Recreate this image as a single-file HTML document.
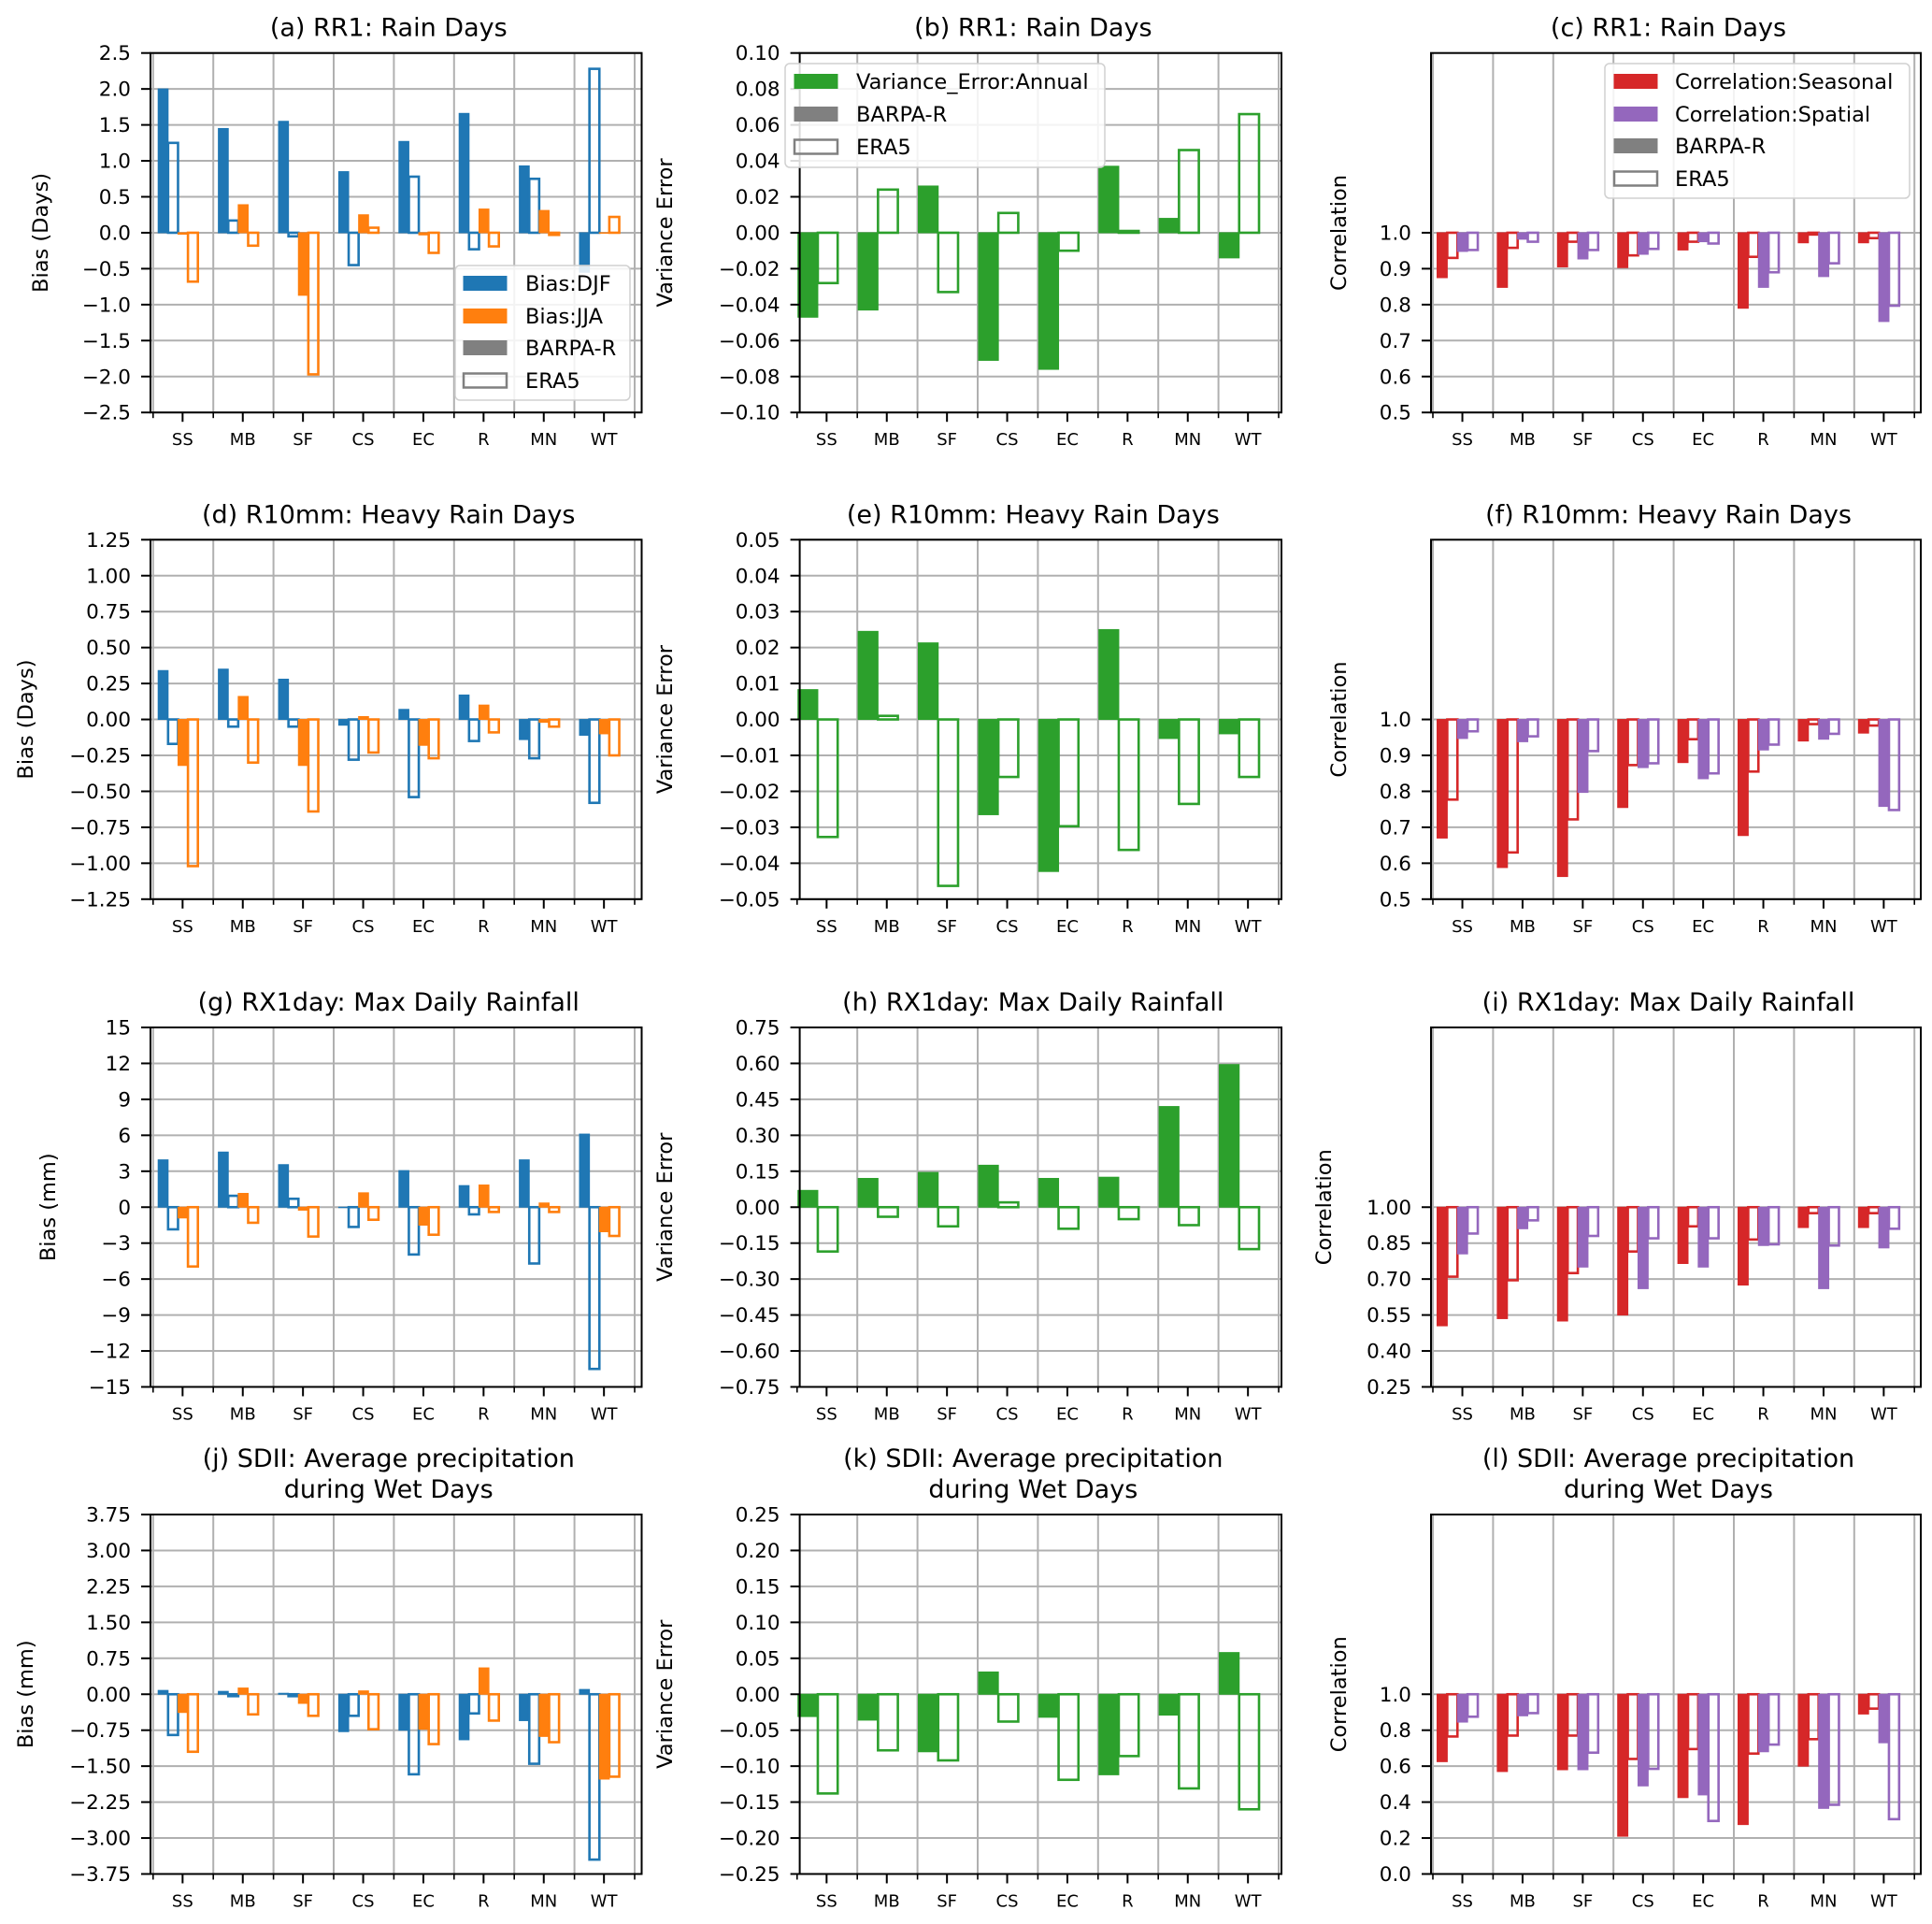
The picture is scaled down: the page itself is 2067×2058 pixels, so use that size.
<!DOCTYPE html>
<html><head><meta charset="utf-8"><style>
html,body{margin:0;padding:0;background:#fff;}
svg{display:block;font-family:"DejaVu Sans","Liberation Sans",sans-serif;}
</style></head><body>
<svg id="fig" width="2067" height="2058" viewBox="0 0 2067 2058" xmlns="http://www.w3.org/2000/svg"></svg>
<script>
const categories = ["SS","MB","SF","CS","EC","R","MN","WT"];
// (a) RR1 bias
const aDjfBarpa = [2.0,1.45,1.55,0.85,1.27,1.66,0.93,-0.55];
const aDjfEra5  = [1.25,0.17,-0.05,-0.45,0.78,-0.23,0.75,2.28];
const aJjaBarpa = [-0.02,0.39,-0.87,0.25,-0.03,0.33,0.31,0.0];
const aJjaEra5  = [-0.68,-0.18,-1.97,0.07,-0.28,-0.19,-0.03,0.22];
const aTicks = [-2.5,-2.0,-1.5,-1.0,-0.5,0.0,0.5,1.0,1.5,2.0,2.5];
const aTickLabels = ["−2.5","−2.0","−1.5","−1.0","−0.5","0.0","0.5","1.0","1.5","2.0","2.5"];
// (b) RR1 variance
const bBarpa = [-0.047,-0.043,0.026,-0.071,-0.076,0.037,0.008,-0.014];
const bEra5  = [-0.028,0.024,-0.033,0.011,-0.010,0.001,0.046,0.066];
const bTicks = [-0.10,-0.08,-0.06,-0.04,-0.02,0,0.02,0.04,0.06,0.08,0.10];
const bTickLabels = ["−0.10","−0.08","−0.06","−0.04","−0.02","0.00","0.02","0.04","0.06","0.08","0.10"];
// (c) RR1 correlation
const cSeasBarpa = [0.875,0.848,0.905,0.903,0.952,0.79,0.972,0.972];
const cSeasEra5  = [0.93,0.958,0.975,0.937,0.975,0.933,0.995,0.985];
const cSpatBarpa = [0.948,0.982,0.927,0.94,0.975,0.848,0.878,0.753];
const cSpatEra5  = [0.952,0.975,0.952,0.955,0.97,0.89,0.915,0.797];
const cTicks = [0.5,0.6,0.7,0.8,0.9,1.0];
const cTickLabels = ["0.5","0.6","0.7","0.8","0.9","1.0"];
// (d) R10mm bias
const dDjfBarpa = [0.34,0.35,0.28,-0.04,0.07,0.17,-0.14,-0.11];
const dDjfEra5  = [-0.17,-0.05,-0.05,-0.28,-0.54,-0.15,-0.27,-0.58];
const dJjaBarpa = [-0.32,0.16,-0.32,0.02,-0.18,0.10,-0.02,-0.10];
const dJjaEra5  = [-1.02,-0.30,-0.64,-0.23,-0.27,-0.09,-0.05,-0.25];
const dTicks = [-1.25,-1.0,-0.75,-0.5,-0.25,0,0.25,0.5,0.75,1.0,1.25];
const dTickLabels = ["−1.25","−1.00","−0.75","−0.50","−0.25","0.00","0.25","0.50","0.75","1.00","1.25"];
// (e)
const eBarpa = [0.0083,0.0245,0.0213,-0.0265,-0.0423,0.025,-0.0053,-0.004];
const eEra5  = [-0.0327,0.001,-0.0463,-0.016,-0.0297,-0.0363,-0.0235,-0.016];
const eTicks = [-0.05,-0.04,-0.03,-0.02,-0.01,0,0.01,0.02,0.03,0.04,0.05];
const eTickLabels = ["−0.05","−0.04","−0.03","−0.02","−0.01","0.00","0.01","0.02","0.03","0.04","0.05"];
// (f)
const fSeasBarpa = [0.67,0.588,0.563,0.755,0.88,0.677,0.94,0.962];
const fSeasEra5  = [0.777,0.63,0.722,0.873,0.945,0.855,0.987,0.983];
const fSpatBarpa = [0.947,0.938,0.797,0.866,0.835,0.915,0.945,0.758];
const fSpatEra5  = [0.967,0.953,0.912,0.878,0.85,0.93,0.96,0.748];
const fTicks = [0.5,0.6,0.7,0.8,0.9,1.0];
const fTickLabels = ["0.5","0.6","0.7","0.8","0.9","1.0"];
// (g)
const gDjfBarpa = [3.95,4.6,3.55,0.0,3.05,1.8,3.95,6.1];
const gDjfEra5  = [-1.85,0.95,0.7,-1.65,-3.95,-0.6,-4.7,-13.5];
const gJjaBarpa = [-0.9,1.15,-0.25,1.2,-1.5,1.85,0.35,-2.05];
const gJjaEra5  = [-4.95,-1.3,-2.45,-1.05,-2.3,-0.4,-0.4,-2.4];
const gTicks = [-15,-12,-9,-6,-3,0,3,6,9,12,15];
const gTickLabels = ["−15","−12","−9","−6","−3","0","3","6","9","12","15"];
// (h)
const hBarpa = [0.07,0.12,0.145,0.175,0.12,0.125,0.42,0.595];
const hEra5  = [-0.185,-0.04,-0.08,0.02,-0.09,-0.05,-0.075,-0.175];
const hTicks = [-0.75,-0.6,-0.45,-0.3,-0.15,0,0.15,0.3,0.45,0.6,0.75];
const hTickLabels = ["−0.75","−0.60","−0.45","−0.30","−0.15","0.00","0.15","0.30","0.45","0.60","0.75"];
// (i)
const iSeasBarpa = [0.505,0.535,0.525,0.55,0.765,0.675,0.915,0.915];
const iSeasEra5  = [0.71,0.695,0.725,0.815,0.92,0.865,0.975,0.975];
const iSpatBarpa = [0.805,0.91,0.75,0.66,0.75,0.84,0.66,0.83];
const iSpatEra5  = [0.89,0.945,0.88,0.87,0.87,0.845,0.84,0.91];
const iTicks = [0.25,0.40,0.55,0.70,0.85,1.00];
const iTickLabels = ["0.25","0.40","0.55","0.70","0.85","1.00"];
// (j)
const jDjfBarpa = [0.08,0.06,0.02,-0.78,-0.75,-0.95,-0.55,0.1];
const jDjfEra5  = [-0.85,-0.04,-0.04,-0.45,-1.67,-0.4,-1.45,-3.45];
const jJjaBarpa = [-0.38,0.13,-0.19,0.07,-0.73,0.55,-0.88,-1.77];
const jJjaEra5  = [-1.2,-0.42,-0.45,-0.73,-1.04,-0.55,-1.0,-1.72];
const jTicks = [-3.75,-3.0,-2.25,-1.5,-0.75,0,0.75,1.5,2.25,3.0,3.75];
const jTickLabels = ["−3.75","−3.00","−2.25","−1.50","−0.75","0.00","0.75","1.50","2.25","3.00","3.75"];
// (k)
const kBarpa = [-0.031,-0.036,-0.08,0.031,-0.032,-0.112,-0.029,0.058];
const kEra5  = [-0.138,-0.078,-0.092,-0.038,-0.119,-0.086,-0.131,-0.16];
const kTicks = [-0.25,-0.2,-0.15,-0.1,-0.05,0,0.05,0.1,0.15,0.2,0.25];
const kTickLabels = ["−0.25","−0.20","−0.15","−0.10","−0.05","0.00","0.05","0.10","0.15","0.20","0.25"];
// (l)
const lSeasBarpa = [0.625,0.57,0.58,0.21,0.425,0.275,0.60,0.89];
const lSeasEra5  = [0.765,0.77,0.77,0.64,0.695,0.67,0.75,0.92];
const lSpatBarpa = [0.845,0.88,0.58,0.49,0.44,0.68,0.365,0.73];
const lSpatEra5  = [0.875,0.895,0.675,0.585,0.295,0.72,0.385,0.305];
const lTicks = [0.0,0.2,0.4,0.6,0.8,1.0];
const lTickLabels = ["0.0","0.2","0.4","0.6","0.8","1.0"];

const BLUE="#1f77b4",ORANGE="#ff7f0e",GREEN="#2ca02c",RED="#d62728",PURPLE="#9467bd";
const svg=document.getElementById('fig');
const NS="http://www.w3.org/2000/svg";
function mk(tag,attrs,parent){const e=document.createElementNS(NS,tag);for(const k in attrs)e.setAttribute(k,attrs[k]);(parent||svg).appendChild(e);return e;}

const COLS=[{x0:161,x1:686.5,g0:163.8,start:0.084,bw:0.165},{x0:855.6,x1:1371,g0:852.8,start:0.014,bw:0.33},{x0:1531,x1:2055,g0:1533,start:0.07,bw:0.169}];
const ROWS=[56.7,577.3,1099,1620];
const PH=384.5, GW=64.4;

function panel(o){
  const c=COLS[o.col], top=ROWS[o.row], bot=top+PH;
  const g=mk('g',{});
  
  
  const ys=v=>bot-(v-o.ymin)/(o.ymax-o.ymin)*PH;
  o.ticks.forEach(t=>{const gl=mk('line',{x1:c.x0,x2:c.x1,y1:ys(t),y2:ys(t),stroke:'#b0b0b0','stroke-width':2},g);});
  for(let k=0;k<=8;k++){const x=c.g0+k*GW;if(x<c.x0)continue;const gl=mk('line',{x1:x,x2:x,y1:top,y2:bot,stroke:'#b0b0b0','stroke-width':2},g);}
  o.series.forEach((s,si)=>{
    s.vals.forEach((v,i)=>{
      const x=c.g0+(i+c.start+si*c.bw)*GW, w=c.bw*GW;
      const y1=ys(o.base), y2=ys(v);
      const r=mk('rect',{x:x,y:Math.min(y1,y2),width:w,height:Math.max(Math.abs(y2-y1),0.5),
        fill:s.filled?s.color:'none',stroke:s.color,'stroke-width':s.filled?1:2.6},g);
      
      
    });
  });
  const sp=mk('rect',{x:c.x0,y:top,width:c.x1-c.x0,height:PH,fill:'none',stroke:'#000','stroke-width':2},g);
  
  o.ticks.forEach((t,i)=>{
    mk('line',{x1:c.x0-10,x2:c.x0,y1:ys(t),y2:ys(t),stroke:'#000','stroke-width':2},g);
    const tx=mk('text',{x:c.x0-21,y:ys(t)+7.5,'text-anchor':'end','font-size':21.5,fill:'#000'},g);
    tx.textContent=o.tickLabels[i];
    
  });
  for(let k=0;k<=8;k++){const x=c.g0+k*GW;mk('line',{x1:x,x2:x,y1:bot,y2:bot+6,stroke:'#000','stroke-width':1.6},g);}
  categories.forEach((cat,i)=>{
    const x=c.g0+(i+0.49)*GW;
    mk('line',{x1:x,x2:x,y1:bot,y2:bot+10,stroke:'#000','stroke-width':2},g);
    const tx=mk('text',{x:x,y:bot+35,'text-anchor':'middle','font-size':18,fill:'#000'},g);
    tx.textContent=cat;
    
  });
  const cx=(c.x0+c.x1)/2-8;
  o.title.forEach((line,li)=>{
    const tt=mk('text',{x:cx,y:top-18-(o.title.length-1-li)*33,'text-anchor':'middle','font-size':27,fill:'#000'},g);
    tt.textContent=line;
    
  });
  const ly=(top+bot)/2;
  const yl=mk('text',{x:o.ylx,y:ly,'text-anchor':'middle','font-size':22.5,fill:'#000',transform:`rotate(-90 ${o.ylx} ${ly})`,'dominant-baseline':'central'},g);
  yl.textContent=o.ylabel;
  
}

function bias(name,col,row,title,ylabel,ylx,d1,d2,j1,j2,ticks,labels){
  panel({name,col,row,title,ylabel,ylx,ymin:ticks[0],ymax:ticks[ticks.length-1],base:0,ticks,tickLabels:labels,
    series:[{key:'djf-barpa',vals:d1,color:BLUE,filled:true},{key:'djf-era5',vals:d2,color:BLUE,filled:false},
            {key:'jja-barpa',vals:j1,color:ORANGE,filled:true},{key:'jja-era5',vals:j2,color:ORANGE,filled:false}]});
}
function vari(name,row,title,b,e,ticks,labels){
  panel({name,col:1,row,title,ylabel:'Variance Error',ylx:712,ymin:ticks[0],ymax:ticks[ticks.length-1],base:0,ticks,tickLabels:labels,
    series:[{key:'barpa',vals:b,color:GREEN,filled:true},{key:'era5',vals:e,color:GREEN,filled:false}]});
}
function corr(name,row,title,ylx,s1,s2,p1,p2,ticks,labels){
  const ymin=ticks[0], ymax=1+(1-ymin);
  panel({name,col:2,row,title,ylabel:'Correlation',ylx,ymin,ymax,base:1,ticks,tickLabels:labels,
    series:[{key:'seasonal-barpa',vals:s1,color:RED,filled:true},{key:'seasonal-era5',vals:s2,color:RED,filled:false},
            {key:'spatial-barpa',vals:p1,color:PURPLE,filled:true},{key:'spatial-era5',vals:p2,color:PURPLE,filled:false}]});
}

bias('panel-a',0,0,['(a) RR1: Rain Days'],'Bias (Days)',44,aDjfBarpa,aDjfEra5,aJjaBarpa,aJjaEra5,aTicks,aTickLabels);
vari('panel-b',0,['(b) RR1: Rain Days'],bBarpa,bEra5,bTicks,bTickLabels);
corr('panel-c',0,['(c) RR1: Rain Days'],1433,cSeasBarpa,cSeasEra5,cSpatBarpa,cSpatEra5,cTicks,cTickLabels);
bias('panel-d',0,1,['(d) R10mm: Heavy Rain Days'],'Bias (Days)',28,dDjfBarpa,dDjfEra5,dJjaBarpa,dJjaEra5,dTicks,dTickLabels);
vari('panel-e',1,['(e) R10mm: Heavy Rain Days'],eBarpa,eEra5,eTicks,eTickLabels);
corr('panel-f',1,['(f) R10mm: Heavy Rain Days'],1433,fSeasBarpa,fSeasEra5,fSpatBarpa,fSpatEra5,fTicks,fTickLabels);
bias('panel-g',0,2,['(g) RX1day: Max Daily Rainfall'],'Bias (mm)',52,gDjfBarpa,gDjfEra5,gJjaBarpa,gJjaEra5,gTicks,gTickLabels);
vari('panel-h',2,['(h) RX1day: Max Daily Rainfall'],hBarpa,hEra5,hTicks,hTickLabels);
corr('panel-i',2,['(i) RX1day: Max Daily Rainfall'],1417,iSeasBarpa,iSeasEra5,iSpatBarpa,iSpatEra5,iTicks,iTickLabels);
bias('panel-j',0,3,['(j) SDII: Average precipitation','during Wet Days'],'Bias (mm)',28,jDjfBarpa,jDjfEra5,jJjaBarpa,jJjaEra5,jTicks,jTickLabels);
vari('panel-k',3,['(k) SDII: Average precipitation','during Wet Days'],kBarpa,kEra5,kTicks,kTickLabels);
corr('panel-l',3,['(l) SDII: Average precipitation','during Wet Days'],1433,lSeasBarpa,lSeasEra5,lSpatBarpa,lSpatEra5,lTicks,lTickLabels);

function legend(name,x,y,w,h,hx,tx,rows,entries){
  const g=mk('g',{});
  
  
  mk('rect',{x,y,width:w,height:h,rx:5,fill:'#fff','fill-opacity':0.85,stroke:'#d0d0d0','stroke-width':1.5},g);
  entries.forEach((e,i)=>{
    const ry=rows[i];
    const hd=mk('rect',{x:hx,y:ry-7.5,width:46,height:15,fill:e.fill,stroke:e.stroke,'stroke-width':e.fill==='none'?2.5:1},g);
    
    const t=mk('text',{x:tx,y:ry+8,'font-size':22.5,fill:'#000'},g);
    t.textContent=e.label;
    
  });
}
legend('legend-a',487,284,187,144,496,562,[303,338,372,407],
  [{label:'Bias:DJF',fill:BLUE,stroke:BLUE},{label:'Bias:JJA',fill:ORANGE,stroke:ORANGE},
   {label:'BARPA-R',fill:'#808080',stroke:'#808080'},{label:'ERA5',fill:'none',stroke:'#808080'}]);
legend('legend-b',840,68,342,111,850,916,[87,122,157],
  [{label:'Variance_Error:Annual',fill:GREEN,stroke:GREEN},
   {label:'BARPA-R',fill:'#808080',stroke:'#808080'},{label:'ERA5',fill:'none',stroke:'#808080'}]);
legend('legend-c',1717,68,326,144,1727,1792,[87,122,156,191],
  [{label:'Correlation:Seasonal',fill:RED,stroke:RED},{label:'Correlation:Spatial',fill:PURPLE,stroke:PURPLE},
   {label:'BARPA-R',fill:'#808080',stroke:'#808080'},{label:'ERA5',fill:'none',stroke:'#808080'}]);
</script>
</body></html>
